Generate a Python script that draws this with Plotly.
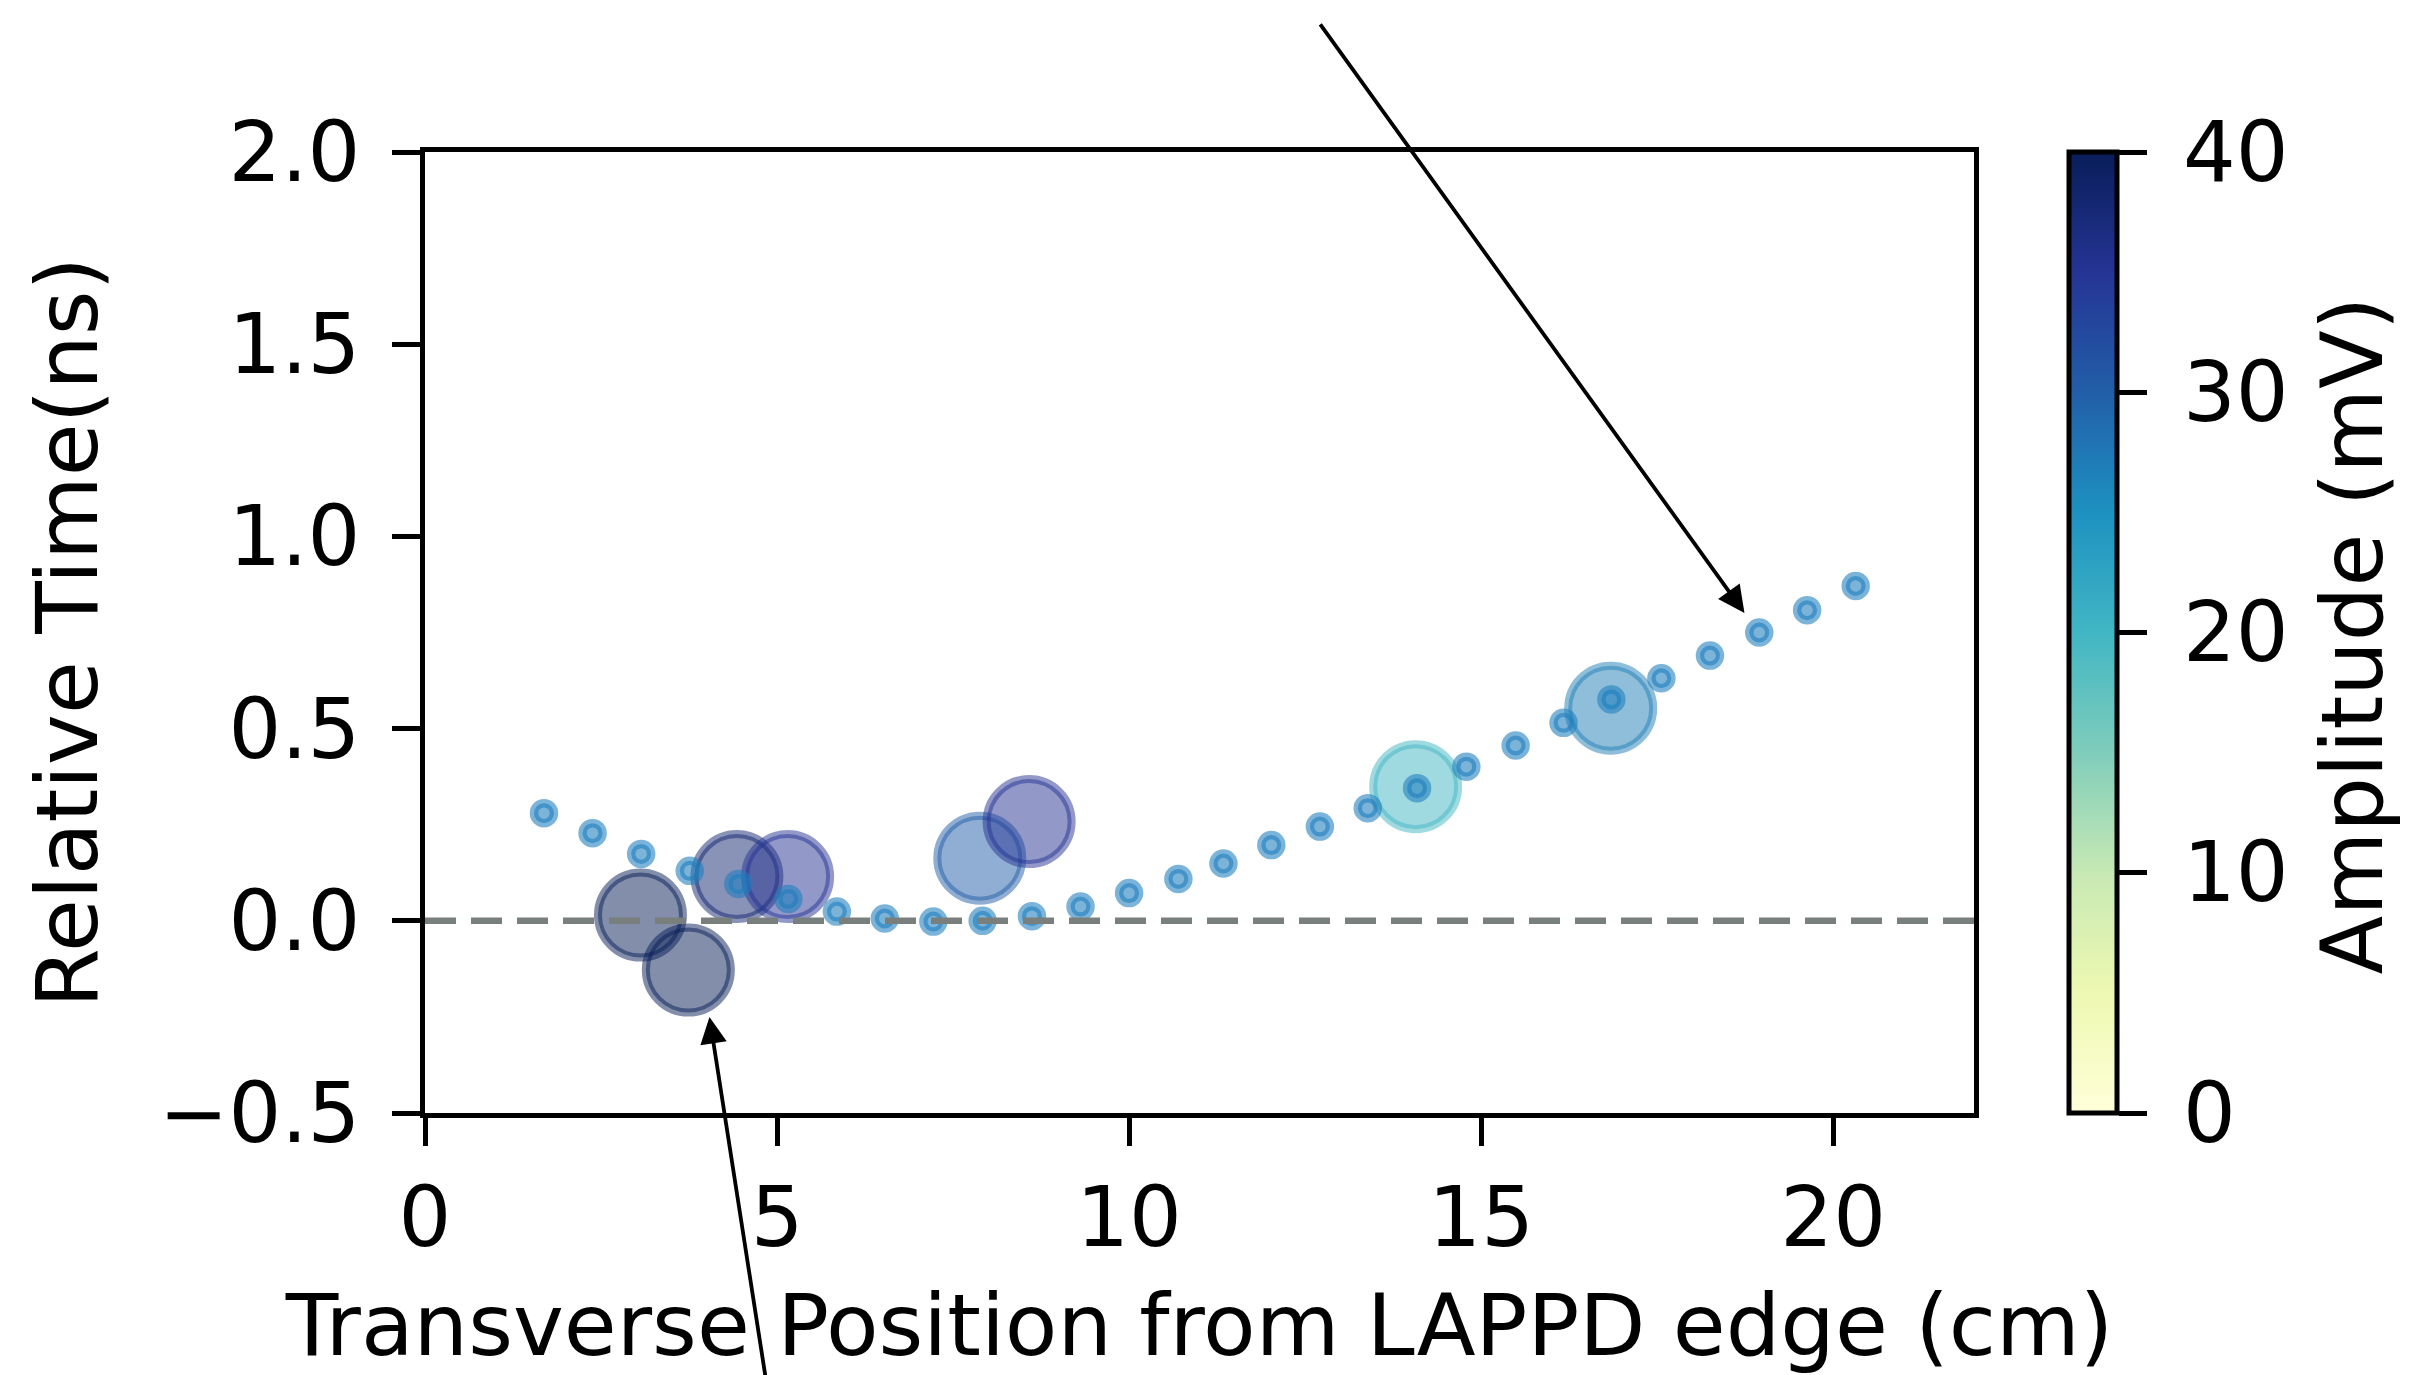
import plotly.graph_objects as go
from plotly.colors import sample_colorscale, sequential

# Timing scan along the LAPPD: fitted relative time per strip position (small dots)
fit_x = [1.69, 2.38, 3.07, 3.76, 4.45, 5.16, 5.85, 6.53, 7.22, 7.92, 8.62, 9.31,
         10.00, 10.70, 11.34, 12.02, 12.71, 13.39, 14.09, 14.79, 15.49, 16.17,
         16.85, 17.56, 18.25, 18.95, 19.63, 20.32]
fit_t = [0.280, 0.228, 0.174, 0.130, 0.096, 0.057, 0.024, 0.006, -0.002, 0.000,
         0.012, 0.037, 0.072, 0.109, 0.149, 0.197, 0.245, 0.293, 0.345, 0.401,
         0.456, 0.515, 0.576, 0.631, 0.690, 0.750, 0.808, 0.871]

# Measured hits: position, relative time and pulse amplitude
hit_x = [3.06, 3.74, 4.43, 5.15, 7.88, 8.58, 14.07, 16.84]
hit_t = [0.015, -0.128, 0.115, 0.115, 0.163, 0.258, 0.349, 0.553]
hit_amp = [40, 40, 38, 35, 30, 35, 20, 27]

amp_min, amp_max = 0, 40
x_ticks = [0, 5, 10, 15, 20]
y_ticks = [-0.5, 0.0, 0.5, 1.0, 1.5, 2.0]
cbar_ticks = [0, 10, 20, 30, 40]

FONT = "DejaVu Sans"
TICK_FS = 83
TITLE_FS = 86
ylgnbu = list(sequential.YlGnBu)
cscale = [[i / (len(ylgnbu) - 1), c] for i, c in enumerate(ylgnbu)]

# plot area in pixels (figure 2414 x 1375)
PL, PR, PT, PB = 425, 1974, 152, 1113
PW = PR - PL


def rgba(c, a):
    c = c.strip()
    vals = c[c.index("(") + 1:c.index(")")].split(",")
    r, g, b = [float(v) for v in vals[:3]]
    return f"rgba({r:.0f},{g:.0f},{b:.0f},{a})"


norm = [(v - amp_min) / (amp_max - amp_min) for v in hit_amp]
hit_cols = sample_colorscale(cscale, norm)
hit_fill = [rgba(c, 0.5) for c in hit_cols]
hit_edge = [rgba(c, 0.5) for c in hit_cols]

fig = go.Figure()

fig.add_trace(go.Scatter(
    x=hit_x, y=hit_t, mode="markers", showlegend=False,
    marker=dict(size=85, color=hit_fill,
                line=dict(width=8, color=hit_edge)),
))

fig.add_trace(go.Scatter(
    x=fit_x, y=fit_t, mode="markers", showlegend=False,
    marker=dict(size=20, color="rgba(30,125,190,0.58)",
                line=dict(width=8.5, color="rgba(30,125,190,0.58)")),
))

# colour bar carrier (no visible points); its labels are placed below
fig.add_trace(go.Scatter(
    x=[None], y=[None], mode="markers", showlegend=False, hoverinfo="skip",
    marker=dict(color=[amp_min], cmin=amp_min, cmax=amp_max, colorscale=cscale,
                showscale=True,
                colorbar=dict(
                    xref="container", x=2069 / 2414, xanchor="left", xpad=0,
                    yref="paper", y=0.5, yanchor="middle", ypad=0,
                    lenmode="pixels", len=PB - PT, thicknessmode="pixels",
                    thickness=48, outlinewidth=5, outlinecolor="black",
                    tickvals=cbar_ticks, ticks="outside", ticklen=28, tickwidth=5,
                    tickcolor="black", showticklabels=False,
                )),
))

# colour bar tick labels
for v in cbar_ticks:
    fig.add_annotation(text=str(v), showarrow=False, xref="paper", yref="paper",
                       x=(2181 - PL) / PW, y=(v - amp_min) / (amp_max - amp_min),
                       xanchor="left", yanchor="middle",
                       font=dict(family=FONT, size=TICK_FS, color="black"))

# colour bar label
fig.add_annotation(text="Amplitude (mV)", textangle=-90, showarrow=False,
                   xref="paper", yref="paper", x=(2352 - PL) / PW, y=0.497,
                   xanchor="center", yanchor="middle",
                   font=dict(family=FONT, size=TITLE_FS, color="black"))

# zero reference line
fig.add_shape(type="line", xref="x", yref="y", x0=0, x1=22, y0=0, y1=0,
              line=dict(color="rgb(120,127,125)", width=6.5, dash="31px,15px"),
              layer="above")

# pointer arrows
arrow = dict(text="", showarrow=True, arrowhead=2, arrowsize=1.4, arrowwidth=3.8,
             arrowcolor="black", xref="x", yref="y", axref="x", ayref="y",
             standoff=0, startstandoff=0)
fig.add_annotation(x=18.74, y=0.801, ax=12.70, ay=2.336, **arrow)
fig.add_annotation(x=4.04, y=-0.250, ax=4.89, ay=-1.25, **arrow)

axis_common = dict(showline=True, linewidth=5, linecolor="black", mirror=True,
                   ticks="outside", ticklen=28, tickwidth=5, tickcolor="black",
                   showgrid=False, zeroline=False,
                   tickfont=dict(family=FONT, size=TICK_FS, color="black"))

fig.update_xaxes(range=[0, 22], tickvals=x_ticks, ticklabelstandoff=0,
                 title=dict(text="Transverse Position from LAPPD edge (cm)",
                            font=dict(family=FONT, size=TITLE_FS, color="black"),
                            standoff=46),
                 **axis_common)
fig.update_yaxes(range=[-0.5, 2.0], tickvals=y_ticks, tickformat=".1f",
                 ticklabelstandoff=15,
                 title=dict(text="Relative Time(ns)",
                            font=dict(family=FONT, size=TITLE_FS, color="black"),
                            standoff=34),
                 **axis_common)

fig.update_layout(
    width=2414, height=1375,
    margin=dict(l=PL, r=2414 - PR, t=PT, b=1375 - PB, autoexpand=False),
    plot_bgcolor="white", paper_bgcolor="white",
    font=dict(family=FONT, size=TICK_FS, color="black"),
)

fig.write_html("out.html")
